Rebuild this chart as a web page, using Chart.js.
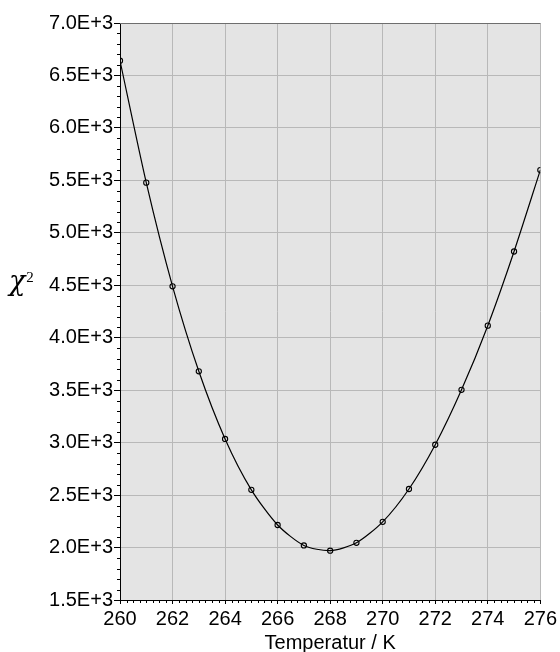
<!DOCTYPE html>
<html>
<head>
<meta charset="utf-8">
<script src="https://cdn.jsdelivr.net/npm/chart.js@4.4.1/dist/chart.umd.min.js"></script>
<style>
  html, body { margin: 0; padding: 0; background: #ffffff; }
  #wrap { width: 560px; height: 652px; position: relative; }
</style>
</head>
<body>
<div id="wrap"><canvas id="chart" width="560" height="652"></canvas></div>
<script>
// Chi-squared of the fit versus assumed temperature
const temperatures = [260, 261, 262, 263, 264, 265, 266, 267, 268, 269, 270, 271, 272, 273, 274, 275, 276];
const chiSquared = [6640, 5478, 4490, 3680, 3035, 2550, 2215, 2020, 1970, 2045, 2245, 2558, 2980, 3503, 4115, 4822, 5598];

const xMin = 260, xMax = 276, xStep = 2, xMinorStep = 0.25;
const yMin = 1500, yMax = 7000, yStep = 500, yMinorStep = 100;
const xAxisTitle = 'Temperatur / K';
const yAxisSymbol = 'χ';
const yAxisExponent = '2';

const points = temperatures.map((t, i) => ({ x: t, y: chiSquared[i] }));

const tickFont = { family: "'Liberation Sans', Arial, sans-serif", size: 20 };

const plotFrame = {
  id: 'plotFrame',
  beforeDraw(chart) {
    const { ctx, chartArea: a } = chart;
    ctx.save();
    ctx.fillStyle = '#ffffff';
    ctx.fillRect(0, 0, chart.width, chart.height);
    ctx.fillStyle = '#e4e4e4';
    ctx.fillRect(a.left, a.top, a.right - a.left, a.bottom - a.top);
    ctx.restore();
  },
  afterDraw(chart) {
    const { ctx, chartArea: a, scales } = chart;
    ctx.save();
    // top border of the plot
    ctx.strokeStyle = '#6e6e6e';
    ctx.lineWidth = 1;
    ctx.beginPath();
    ctx.moveTo(a.left, a.top + 0.5);
    ctx.lineTo(a.right, a.top + 0.5);
    ctx.stroke();
    // minor tick marks
    ctx.strokeStyle = '#000000';
    ctx.beginPath();
    for (let v = yMin; v <= yMax + 1e-9; v += yMinorStep) {
      if (Math.abs(v % yStep) < 1e-6) continue;
      const py = Math.round(scales.y.getPixelForValue(v)) + 0.5;
      ctx.moveTo(a.left - 3, py);
      ctx.lineTo(a.left, py);
    }
    for (let v = xMin; v <= xMax + 1e-9; v += xMinorStep) {
      if (Math.abs((v - xMin) % xStep) < 1e-6) continue;
      const px = Math.round(scales.x.getPixelForValue(v)) + 0.5;
      ctx.moveTo(px, a.bottom);
      ctx.lineTo(px, a.bottom + 3);
    }
    ctx.stroke();
    // y axis symbol
    ctx.fillStyle = '#000000';
    ctx.textBaseline = 'alphabetic';
    ctx.textAlign = 'left';
    ctx.font = "italic 27px 'DejaVu Serif', serif";
    ctx.fillText(yAxisSymbol, 9, 290);
    const w = ctx.measureText(yAxisSymbol).width;
    ctx.font = "15px 'Liberation Serif', serif";
    ctx.fillText(yAxisExponent, 9 + w + 1, 282);
    ctx.restore();
  }
};

new Chart(document.getElementById('chart'), {
  type: 'line',
  data: {
    datasets: [{
      data: points,
      borderColor: '#000000',
      borderWidth: 1.2,
      tension: 0.25,
      pointRadius: 2.6,
      pointBorderWidth: 1.1,
      pointBorderColor: '#000000',
      pointBackgroundColor: 'rgba(0,0,0,0)',
      fill: false
    }]
  },
  options: {
    responsive: false,
    animation: false,
    events: [],
    layout: { padding: { top: 23, right: 17, left: 0, bottom: 0 } },
    plugins: { legend: { display: false }, tooltip: { enabled: false } },
    scales: {
      x: {
        type: 'linear',
        min: xMin, max: xMax,
        afterFit(scale) { scale.height = 52; },
        ticks: { stepSize: xStep, color: '#000000', font: tickFont, padding: 3, maxRotation: 0, autoSkip: false },
        grid: { color: '#b8b8b8', lineWidth: 1, drawTicks: true, tickLength: 4, tickColor: '#000000' },
        border: { display: true, color: '#000000', width: 1 },
        title: { display: true, text: xAxisTitle, color: '#000000', font: { family: "'Liberation Sans', Arial, sans-serif", size: 20, lineHeight: 1 }, padding: { top: 0, bottom: -1 } }
      },
      y: {
        type: 'linear',
        min: yMin, max: yMax,
        afterFit(scale) { scale.width = 120; },
        ticks: {
          stepSize: yStep, color: '#000000', font: tickFont, padding: 1, autoSkip: false,
          callback: v => (v / 1000).toFixed(1) + 'E+3'
        },
        grid: { color: '#b8b8b8', lineWidth: 1, drawTicks: true, tickLength: 6, tickColor: '#000000' },
        border: { display: true, color: '#000000', width: 1 }
      }
    }
  },
  plugins: [plotFrame]
});
</script>
</body>
</html>
